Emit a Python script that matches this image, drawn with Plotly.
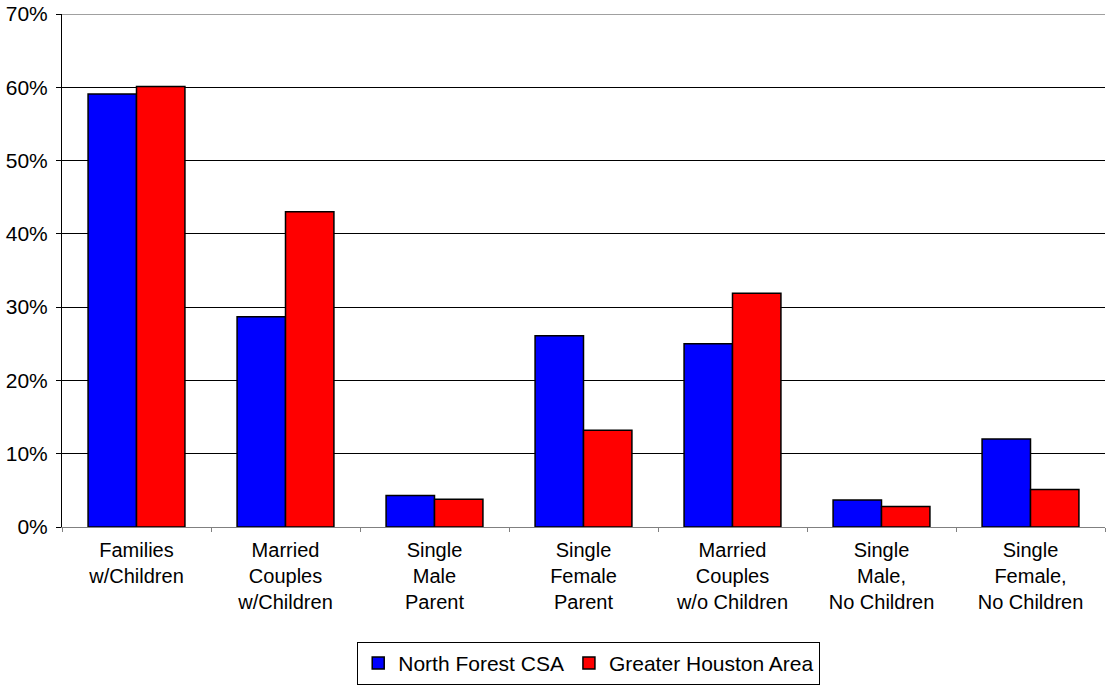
import plotly.graph_objects as go

# household composition, share of households
categories = ['Families<br>w/Children', 'Married<br>Couples<br>w/Children', 'Single<br>Male<br>Parent',
              'Single<br>Female<br>Parent', 'Married<br>Couples<br>w/o Children',
              'Single<br>Male,<br>No Children', 'Single<br>Female,<br>No Children']
north_forest = [0.591, 0.287, 0.043, 0.261, 0.250, 0.037, 0.120]
greater_houston = [0.601, 0.430, 0.038, 0.132, 0.319, 0.028, 0.051]

fig = go.Figure()
fig.add_trace(go.Bar(x=categories, y=north_forest, name='North Forest CSA',
                     marker=dict(color='#0000FF', line=dict(color='black', width=1.5))))
fig.add_trace(go.Bar(x=categories, y=greater_houston, name='Greater Houston Area',
                     marker=dict(color='#FF0000', line=dict(color='black', width=1.5))))

fig.update_layout(
    width=1106, height=687,
    margin=dict(l=62, r=1, t=14, b=160),
    paper_bgcolor='white', plot_bgcolor='white',
    font=dict(family='Liberation Sans, Arial', size=21, color='black'),
    barmode='group', bargap=0.35, bargroupgap=0,
    legend=dict(orientation='h', x=0.505, xanchor='center', y=-0.224, yanchor='top',
                bordercolor='black', borderwidth=1, font=dict(size=21),
                itemwidth=30, tracegroupgap=0),
)
fig.update_yaxes(range=[0, 0.70], dtick=0.1, tickformat='.0%',
                 showgrid=True, gridcolor='black', gridwidth=1,
                 showline=True, linecolor='black', linewidth=1,
                 ticks='outside', ticklen=5, tickcolor='black', zeroline=False,
                 ticklabelstandoff=4)
fig.update_xaxes(showline=True, linecolor='#808080', linewidth=1,
                 ticks='outside', tickson='boundaries', ticklen=4, tickcolor='#808080',
                 tickfont=dict(size=20), ticklabelstandoff=5)
fig.add_hline(y=0.70, line=dict(color='#808080', width=1.5))

# drop the page's default body margin so the figure sits at the window corner
fig.write_html('out.html', config={'displayModeBar': False},
               post_script="document.body.style.margin='0';")
